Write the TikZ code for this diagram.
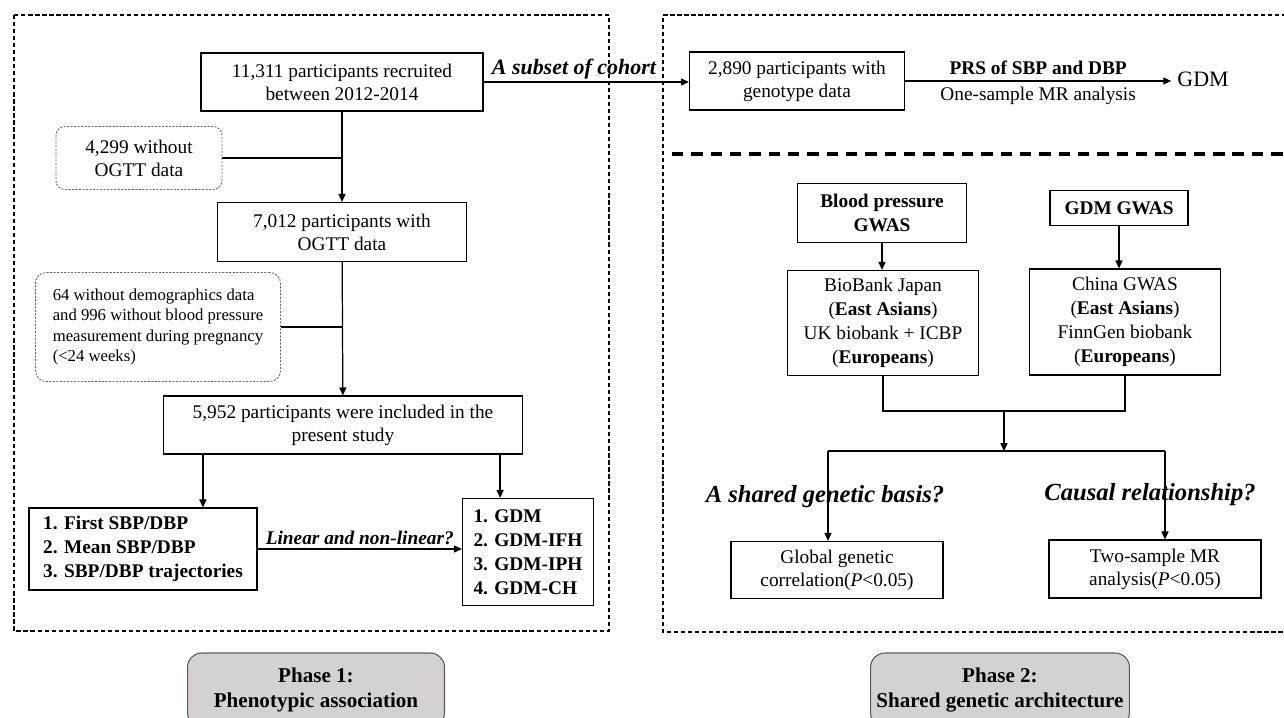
\documentclass[tikz,border=0pt]{standalone}
\usepackage{fontspec}
\setmainfont{Liberation Serif}
\usetikzlibrary{positioning, arrows.meta, calc}

\definecolor{phasegray}{HTML}{D5D0D1}
\definecolor{phaseline}{HTML}{5A5A5A}

\tikzset{
  box/.style={draw, line width=0.7pt, align=center, inner sep=2pt, font=\fontsize{11}{13.2}\selectfont},
  listbox/.style={box, align=left, font=\bfseries\fontsize{11}{13.6}\selectfont},
  dropbox/.style={draw=gray!80!black, line width=0.5pt, dash pattern=on 1.2pt off 0.8pt, rounded corners=5pt, align=center, font=\fontsize{11}{13.2}\selectfont},
  phase/.style={draw=phaseline, fill=phasegray, line width=0.6pt, rounded corners=8pt, align=center, font=\bfseries\fontsize{12}{14.5}\selectfont},
  arr/.style={-{Triangle[length=4.5pt,width=4pt]}, line width=0.7pt},
  link/.style={line width=0.7pt},
  frame/.style={line width=0.6pt, dash pattern=on 2.4pt off 1.6pt},
  question/.style={font=\bfseries\itshape\fontsize{14}{16}\selectfont},
}

\begin{document}
\begin{tikzpicture}[x=0.02cm, y=-0.02cm]
\useasboundingbox (0,0) rectangle (1284,717);

% Frames of the two phases
\draw[frame] (14,15) rectangle (609,631);
\draw[frame] (1300,15) -- (663,15) -- (663,632) -- (1300,632);
\draw[line width=1.8pt, dash pattern=on 6.5pt off 4.5pt] (672,154) -- (1300,154);

% Phase 1: cohort flow
\node[box, minimum width=5.64cm, minimum height=1.16cm] (recruit) at (342,82) {11,311 participants recruited\\between 2012-2014};
\node[dropbox, minimum width=3.32cm, minimum height=1.26cm] (noogtt) at (139,158) {4,299 without\\OGTT data};
\node[box, minimum width=4.98cm, minimum height=1.18cm] (ogtt) at (342,232) {7,012 participants with\\OGTT data};
\node[dropbox, align=left, rounded corners=6pt, minimum width=4.9cm, minimum height=2.18cm, font=\fontsize{9.5}{11.5}\selectfont] (excl) at (158,327) {64 without demographics data\\and 996 without blood pressure\\measurement during pregnancy\\(<24 weeks)};
\node[box, minimum width=7.18cm, minimum height=1.16cm] (incl) at (343,425) {5,952 participants were included in the\\present study};
\node[listbox, minimum width=4.56cm, minimum height=1.64cm] (expo) at (143,549) {1. First SBP/DBP\\2. Mean SBP/DBP\\3. SBP/DBP trajectories};
\node[listbox, minimum width=2.62cm, minimum height=2.14cm] (outc) at (528,552) {1. GDM\\2. GDM-IFH\\3. GDM-IPH\\4. GDM-CH};

\draw[arr] (recruit) -- (ogtt);
\draw[link] (noogtt.east) -- (noogtt.east -| recruit.south);
\draw[arr] (ogtt) -- (incl);
\draw[link] (excl.east) -- (excl.east -| ogtt.south);
\coordinate (lft) at ([xshift=0.8cm]incl.south west);
\coordinate (rgt) at ([xshift=-0.46cm]incl.south east);
\draw[arr] (lft) -- (lft |- expo.north);
\draw[arr] (rgt) -- (rgt |- outc.north);
\draw[arr] (expo.east) -- node[above, inner sep=2pt, font=\bfseries\itshape\fontsize{11}{13}\selectfont] {Linear and non-linear?} (expo.east -| outc.west);

% Phase 2: one-sample MR
\node[box, minimum width=4.3cm, minimum height=1.16cm] (geno) at (797,81) {2,890 participants with\\genotype data};
\node[font=\fontsize{12.5}{15}\selectfont] (gdm) at (1203,79) {GDM};
\draw[arr] (recruit.east) -- node[pos=0.44, above, inner sep=1pt, font=\bfseries\itshape\fontsize{12.5}{15}\selectfont] {A subset of cohort} (recruit.east -| geno.west);
\draw[arr] (geno.east) -- node[above, inner sep=3pt, font=\bfseries\fontsize{11}{13}\selectfont] {PRS of SBP and DBP} node[below, inner sep=3pt, font=\fontsize{11}{13}\selectfont] {One-sample MR analysis} (geno.east -| gdm.west);

% Phase 2: GWAS summary data
\node[box, font=\bfseries\fontsize{11}{13.2}\selectfont, minimum width=3.38cm, minimum height=1.18cm] (bpgwas) at (882,213) {Blood pressure\\GWAS};
\node[box, font=\bfseries\fontsize{11}{13.2}\selectfont, minimum width=2.76cm, minimum height=0.7cm] (gdmgwas) at (1119,208) {GDM GWAS};
\node[box, font=\fontsize{11}{13.6}\selectfont, minimum width=3.82cm, minimum height=2.1cm] (bbj) at (883,323) {BioBank Japan\\(\textbf{East Asians})\\UK biobank + ICBP\\(\textbf{Europeans})};
\node[box, font=\fontsize{11}{13.6}\selectfont, minimum width=3.82cm, minimum height=2.12cm] (china) at (1125,322) {China GWAS\\(\textbf{East Asians})\\FinnGen biobank\\(\textbf{Europeans})};
\node[box, minimum width=4.24cm, minimum height=1.14cm] (glob) at (837,570) {Global genetic\\correlation(\textit{P}<0.05)};
\node[box, minimum width=4.24cm, minimum height=1.16cm] (twos) at (1155,569) {Two-sample MR\\analysis(\textit{P}<0.05)};
\node[question] (shared) at (825,497) {A shared genetic basis?};
\node[question] (causal) at (1150,495) {Causal relationship?};

\draw[arr] (bpgwas.south) -- (bpgwas.south |- bbj.north);
\draw[arr] (gdmgwas.south) -- (gdmgwas.south |- china.north);
\draw[link] (bbj.south) -- ++(0,35) coordinate (jl) -| (china.south);
\coordinate (jm) at ($(jl)!0.5!(jl -| china.south)$);
\draw[arr] (jm) -- ++(0,40) coordinate (split);
\coordinate (gl) at ([xshift=-0.18cm]glob.north);
\coordinate (tw) at ([xshift=0.2cm]twos.north);
\draw[link] (split -| gl) -- (split -| tw);
\draw[arr] (split -| gl) -- (gl);
\draw[arr] (split -| tw) -- (tw);

% Phase labels
\node[phase, minimum width=5.14cm, minimum height=1.48cm] (phase1) at (316,690) {Phase 1:\\Phenotypic association};
\node[phase, minimum width=4.74cm, minimum height=1.48cm] (phase2) at (1000,690) {Phase 2:\\Shared genetic architecture};
\end{tikzpicture}
\end{document}
